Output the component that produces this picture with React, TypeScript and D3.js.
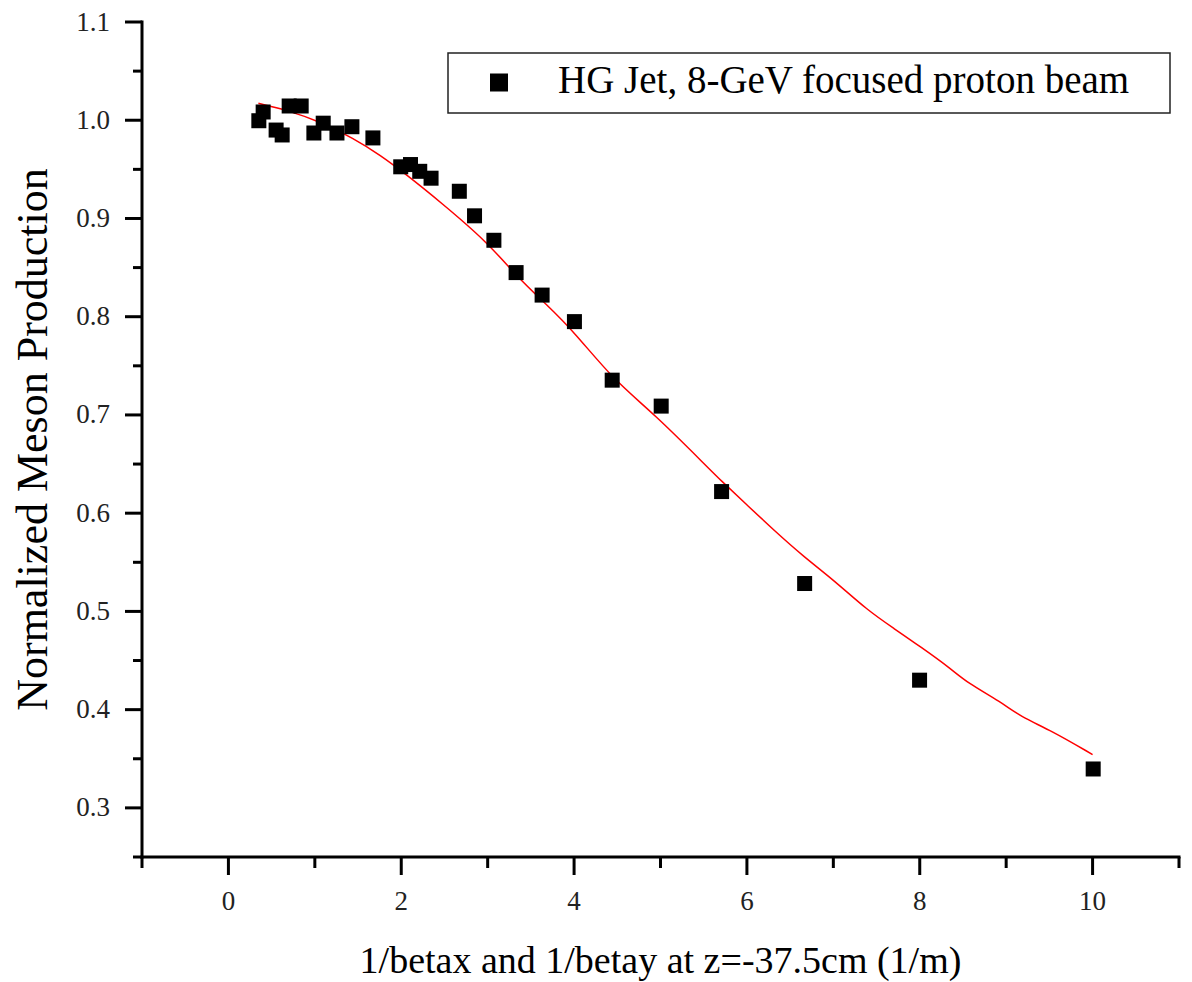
import React from 'react';
import * as d3 from 'd3';

// Measured data (1/beta, normalized meson production)
const pointX = [0.352, 0.402, 0.552, 0.622, 0.703, 0.842, 0.989, 1.097, 1.256, 1.429, 1.672, 1.994, 2.107, 2.214, 2.345, 2.672, 2.848, 3.072, 3.329, 3.630, 4.004, 4.441, 5.008, 5.707, 6.668, 7.998, 10.007];
const pointY = [0.9995, 1.0084, 0.990, 0.985, 1.0145, 1.0145, 0.987, 0.997, 0.987, 0.9934, 0.982, 0.9526, 0.9549, 0.948, 0.941, 0.9277, 0.9027, 0.8778, 0.8449, 0.822, 0.795, 0.7354, 0.709, 0.622, 0.5284, 0.430, 0.3396];

// Fit curve
const fitX = [0.347, 0.676, 1.062, 1.448, 1.757, 2.066, 2.45, 2.993, 3.34, 3.688, 3.996, 4.459, 4.922, 5.541, 5.695, 6.004, 6.312, 6.66, 7.007, 7.394, 7.702, 8.011, 8.359, 8.552, 8.938, 9.17, 9.517, 10.0];
const fitY = [1.0172, 1.0104, 0.9985, 0.9816, 0.9646, 0.9442, 0.917, 0.8763, 0.8406, 0.8118, 0.785, 0.7354, 0.7015, 0.6471, 0.6336, 0.6081, 0.5827, 0.5555, 0.5318, 0.5012, 0.4826, 0.4639, 0.4418, 0.4272, 0.4079, 0.3926, 0.379, 0.3543];

const xMajor = [0, 2, 4, 6, 8, 10];
const xMinor = [-1, 1, 3, 5, 7, 9, 11];
const yMajor = [0.3, 0.4, 0.5, 0.6, 0.7, 0.8, 0.9, 1.0, 1.1];
const yMinor = [0.25, 0.35, 0.45, 0.55, 0.65, 0.75, 0.85, 0.95, 1.05];

const legendLabel = 'HG Jet, 8-GeV focused proton beam';
const xTitle = '1/betax and 1/betay at z=-37.5cm (1/m)';
const yTitle = 'Normalized Meson Production';

const W = 1192;
const H = 982;
const FONT = '"Liberation Serif", "Times New Roman", serif';

export default function App() {
  const x = d3.scaleLinear().domain([-1, 11]).range([142, 1179]);
  const y = d3.scaleLinear().domain([0.25, 1.1]).range([857, 22]);
  const x0 = x(-1);
  const y0 = y(0.25);

  const fitData = fitX.map((v, i) => [v, fitY[i]] as [number, number]);
  const line = d3
    .line<[number, number]>()
    .x((d) => x(d[0]))
    .y((d) => y(d[1]))
    .curve(d3.curveBasis);

  const sq = 15;

  return (
    <svg
      width={W}
      height={H}
      style={{ position: 'absolute', left: 0, top: 0, background: '#fff' }}
      fontFamily={FONT}
    >
      <rect x={0} y={0} width={W} height={H} fill="#fff" />

      {/* fit line */}
      <path d={line(fitData) || ''} fill="none" stroke="#ff0000" strokeWidth={1.5} />

      {/* points */}
      {pointX.map((v, i) => (
        <rect
          key={'p' + i}
          x={x(v) - sq / 2}
          y={y(pointY[i]) - sq / 2}
          width={sq}
          height={sq}
          fill="#000"
        />
      ))}

      {/* axes */}
      <line x1={x0} y1={y(1.1) - 1.5} x2={x0} y2={y0 + 1.5} stroke="#000" strokeWidth={3} />
      <line x1={x0 - 1.5} y1={y0} x2={x(11) + 1.5} y2={y0} stroke="#000" strokeWidth={3} />

      {/* y ticks */}
      {yMajor.map((v) => (
        <g key={'ym' + v}>
          <line x1={x0 - 17} x2={x0} y1={y(v)} y2={y(v)} stroke="#000" strokeWidth={3} />
          <text x={110} y={y(v) + 8.5} textAnchor="end" fontSize={27} fill="#222">
            {d3.format('.1f')(v)}
          </text>
        </g>
      ))}
      {yMinor.map((v) => (
        <line key={'yn' + v} x1={x0 - 9} x2={x0} y1={y(v)} y2={y(v)} stroke="#000" strokeWidth={3} />
      ))}

      {/* x ticks */}
      {xMajor.map((v) => (
        <g key={'xm' + v}>
          <line x1={x(v)} x2={x(v)} y1={y0} y2={y0 + 18} stroke="#000" strokeWidth={3} />
          <text x={x(v)} y={910} textAnchor="middle" fontSize={27} fill="#222">
            {d3.format('d')(v)}
          </text>
        </g>
      ))}
      {xMinor.map((v) => (
        <line key={'xn' + v} x1={x(v)} x2={x(v)} y1={y0} y2={y0 + 11} stroke="#000" strokeWidth={3} />
      ))}

      {/* axis titles */}
      <text x={(x(-1) + x(11)) / 2} y={973} textAnchor="middle" fontSize={38} fill="#000">
        {xTitle}
      </text>
      <text
        transform={`translate(47, ${(y(1.1) + y0) / 2}) rotate(-90)`}
        textAnchor="middle"
        fontSize={44}
        fill="#000"
      >
        {yTitle}
      </text>

      {/* legend */}
      <rect x={448} y={53} width={722} height={60} fill="#fff" stroke="#222" strokeWidth={1.5} />
      <rect x={499 - 9} y={82.5 - 9} width={18} height={18} fill="#000" />
      <text x={558} y={93} fontSize={39} fill="#000">
        {legendLabel}
      </text>
    </svg>
  );
}
